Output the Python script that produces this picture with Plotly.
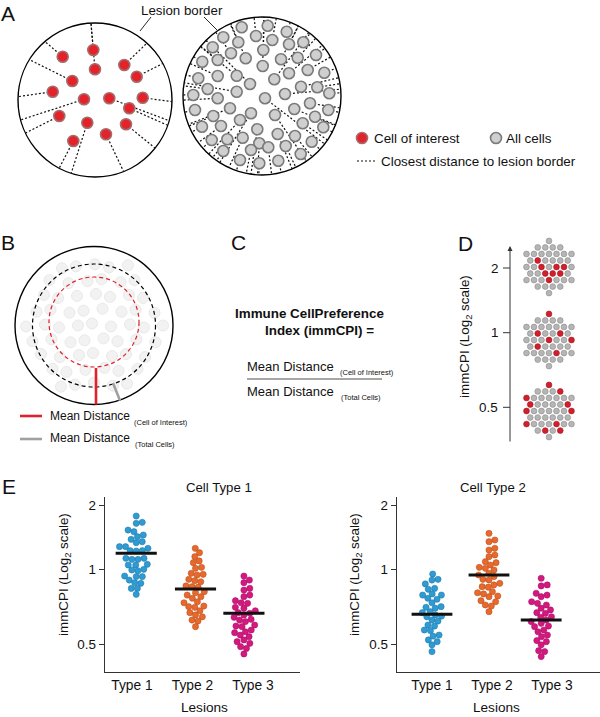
import numpy as np
import plotly.graph_objects as go

W, H = 600, 717
FONT = "Liberation Sans, Arial, sans-serif"

# ---------------- Panel A data ----------------
A_left = dict(cx=95, cy=100, r=77)
A_right = dict(cx=262, cy=96, r=79)

interest_x = [62.7, 93.3, 95.0, 124.3, 136.7, 72.3, 52.7, 84.0, 109.3, 142.7, 129.3, 59.3, 87.3, 126.0, 106.0, 73.3]
interest_y = [56.7, 50.0, 69.3, 65.0, 76.7, 81.0, 91.7, 99.3, 98.3, 97.7, 108.3, 116.0, 122.7, 124.3, 134.3, 141.0]
interest_border_deg = [-130.6, -93, -93, -47.6, -28.3, -148.4, -177.5, 165, 15.6, 1.2, 19.2, 154.6, 108, 38.7, 68.2, 117.7]

allcells_x = [241.7, 267.7, 286.7, 256, 223.3, 303.3, 272.3, 289, 238.3, 212.7, 231, 263.3, 316, 297.7, 281,
              217.7, 202.3, 245.7, 262.7, 307.7, 324.3, 289, 198.3, 217.7, 236.7, 274.3, 317.3, 301, 207.7,
              250, 236.7, 193.3, 329.3, 285, 217.7, 265, 310, 195, 230, 294.3, 328.3, 251, 213.3, 275, 315,
              240, 221, 302.7, 202, 257.3, 323.3, 277.7, 242.7, 295, 211.7, 227.3, 311.7, 259.3, 285.7,
              223.3, 251, 268.3, 300.7, 240, 259.3, 278.3]
allcells_y = [27.3, 25.7, 31.7, 36, 37.3, 42.3, 40, 44.3, 42.3, 47.3, 53.3, 50, 55, 57.7, 59.3,
              60, 61.7, 58.3, 66, 70, 72.7, 73.3, 78.3, 76, 75.7, 79.3, 87.3, 86.7, 89,
              84, 91.7, 95, 93.3, 94, 98.3, 98.3, 103.3, 110, 108.3, 109, 110, 113.3, 116, 115, 116.7,
              120, 126, 123.3, 126.7, 129.3, 127.3, 134, 137.7, 136, 140, 139.3, 141.7, 143.3, 146,
              151, 150, 147.3, 154, 160, 163.3, 160.7]

# ---------------- Panel B data ----------------
B_circle = dict(cx=94, cy=325.5, r=79)
B_total_ring_r = 61.5
B_interest_ring = dict(cx=94, cy=322, r=45)

# ---------------- Panel D data ----------------
D_levels = [2, 1, 0.5]
D_tick_y = {2: 268, 1: 332.7, 0.5: 407.3}
D_cluster_cy = [267, 340, 411]
# approximate positions of the red cells inside each cluster (relative to cluster centre)
D_red_top = [(-6, 8), (1, 7), (9, 7), (-1, 14), (-4, 0), (5, 0), (-8, -6), (12, -2)]
D_red_mid = [(-3, -24), (-13, -7), (9, -7), (2, 3), (23, 3), (-11, 10), (8, 13)]
D_red_bot = [(-2, -25), (14, -22), (-19, -17), (-22, -8), (20, -10), (-25, 4), (24, 3), (-21, 15),
             (9, 13), (-5, 24), (14, 20)]

# ---------------- Panel E data ----------------
lesion_types = ["Type 1", "Type 2", "Type 3"]
ct1_type1 = [1.775, 1.658, 1.640, 1.525, 1.498, 1.445, 1.419, 1.379, 1.344, 1.330, 1.274, 1.274, 1.251, 1.219,
             1.215, 1.219, 1.123, 1.123, 1.110, 1.110, 1.052, 1.044, 1.044, 0.997, 0.991, 0.984, 0.937, 0.932,
             0.932, 0.903, 0.881, 0.876, 0.836, 0.836, 0.791]
ct1_type2 = [1.251, 1.193, 1.143, 1.091, 1.071, 1.018, 1.007, 0.961, 0.952, 0.946, 0.909, 0.898, 0.889, 0.855,
             0.849, 0.845, 0.811, 0.803, 0.786, 0.774, 0.763, 0.739, 0.732, 0.710, 0.706, 0.702, 0.680, 0.668,
             0.654, 0.643, 0.624, 0.618, 0.587]
ct1_type3 = [0.937, 0.903, 0.881, 0.836, 0.823, 0.786, 0.774, 0.746, 0.732, 0.728, 0.702, 0.696, 0.680, 0.668,
             0.664, 0.654, 0.640, 0.628, 0.624, 0.615, 0.596, 0.590, 0.587, 0.569, 0.560, 0.555, 0.543, 0.535,
             0.519, 0.511, 0.503, 0.488, 0.480, 0.456]
ct2_type1 = [0.955, 0.909, 0.903, 0.871, 0.836, 0.829, 0.794, 0.786, 0.786, 0.763, 0.756, 0.732, 0.706, 0.702,
             0.696, 0.674, 0.668, 0.654, 0.647, 0.643, 0.624, 0.618, 0.596, 0.590, 0.569, 0.566, 0.543, 0.538,
             0.519, 0.511, 0.496, 0.466]
ct2_type2 = [1.471, 1.369, 1.344, 1.251, 1.228, 1.164, 1.143, 1.082, 1.071, 1.044, 1.018, 1.007, 0.991, 0.961,
             0.946, 0.932, 0.909, 0.903, 0.876, 0.863, 0.849, 0.845, 0.811, 0.803, 0.794, 0.779, 0.774, 0.746,
             0.739, 0.717, 0.710, 0.674]
ct2_type3 = [0.918, 0.863, 0.855, 0.799, 0.786, 0.774, 0.739, 0.728, 0.717, 0.696, 0.685, 0.668, 0.664, 0.643,
             0.640, 0.624, 0.615, 0.605, 0.590, 0.587, 0.569, 0.560, 0.543, 0.535, 0.516, 0.511, 0.496, 0.470,
             0.466, 0.445]
ct1_center = [1.185, 0.831, 0.664]
ct2_center = [0.658, 0.946, 0.624]
ytick_vals = [2, 1, 0.5]
type_colors = ["#2e9bd3", "#e8692c", "#d5187f"]
type_edges = ["#1f74a3", "#b04d1c", "#9c0f5c"]

# ---------------- helpers ----------------
def circle_shape(cx, cy, r, color="black", width=1.3, dash="solid", layer="below"):
    return dict(type="circle", xref="x", yref="y", x0=cx - r, x1=cx + r, y0=cy - r, y1=cy + r,
                line=dict(color=color, width=width, dash=dash), layer=layer)

def cpi_scale(v):
    # the reference axis: 64 px per doubling above 1, 75 px per halving below 1
    t = np.log2(np.asarray(v, dtype=float))
    return np.where(t >= 0, t * 64.0, t * 75.0)

def swarm(ypx, d):
    ypx = np.asarray(ypx, dtype=float)
    xs = np.zeros(len(ypx))
    placed = []
    for i in np.argsort(ypx):
        y = ypx[i]
        cands = [0.0]
        for (px, py) in placed:
            dy = y - py
            if abs(dy) < d:
                dx = np.sqrt(d * d - dy * dy)
                cands += [px + dx, px - dx]
        cands.sort(key=abs)
        for c in cands:
            if all((c - px) ** 2 + (y - py) ** 2 >= d * d - 1e-6 for px, py in placed):
                xs[i] = c
                placed.append((c, y))
                break
    return xs

fig = go.Figure()
shapes = []
ann = []

def text(x, y, s, size=12, xanchor="center", yanchor="middle", bold=False, color="#111", angle=0):
    ann.append(dict(x=x, y=y, xref="x", yref="y", text=("<b>%s</b>" % s) if bold else s, showarrow=False,
                    xanchor=xanchor, yanchor=yanchor, textangle=angle,
                    font=dict(family=FONT, size=size, color=color)))

# ---------------- Panel A ----------------
shapes.append(circle_shape(A_left["cx"], A_left["cy"], A_left["r"], width=1.4))
shapes.append(circle_shape(A_right["cx"], A_right["cy"], A_right["r"], width=1.4))

lx, ly = [], []
for x, y, a in zip(interest_x, interest_y, interest_border_deg):
    ex = A_left["cx"] + A_left["r"] * np.cos(np.radians(a))
    ey = A_left["cy"] + A_left["r"] * np.sin(np.radians(a))
    lx += [x, ex, None]; ly += [y, ey, None]
gx, gy = [], []
for x, y in zip(allcells_x, allcells_y):
    dx, dy = x - A_right["cx"], y - A_right["cy"]
    n = np.hypot(dx, dy)
    if n < 1e-6:
        dx, dy, n = 0, 1, 1
    ex = A_right["cx"] + A_right["r"] * dx / n
    ey = A_right["cy"] + A_right["r"] * dy / n
    gx += [x, ex, None]; gy += [y, ey, None]

fig.add_trace(go.Scatter(x=lx + gx, y=ly + gy, mode="lines", line=dict(color="#111", width=1.2, dash="2px,2px"),
                         hoverinfo="skip", showlegend=False))
fig.add_trace(go.Scatter(x=interest_x, y=interest_y, mode="markers",
                         marker=dict(size=11, color="#e4222a", line=dict(color="#a36d6d", width=1.6)),
                         hoverinfo="skip", showlegend=False))
fig.add_trace(go.Scatter(x=allcells_x, y=allcells_y, mode="markers",
                         marker=dict(size=11, color="#cfcfcf", line=dict(color="#7a7a7a", width=1.6)),
                         hoverinfo="skip", showlegend=False))

# lesion border label + leaders
text(182, 10, "Lesion border", size=13.3)
shapes.append(dict(type="line", xref="x", yref="y", x0=151, y0=17, x1=140, y1=31, line=dict(color="#111", width=0.9)))
shapes.append(dict(type="line", xref="x", yref="y", x0=204, y0=17, x1=217, y1=30, line=dict(color="#111", width=0.9)))

# legend of A
fig.add_trace(go.Scatter(x=[362], y=[138], mode="markers",
                         marker=dict(size=11, color="#e4222a", line=dict(color="#a36d6d", width=1.6)),
                         hoverinfo="skip", showlegend=False))
fig.add_trace(go.Scatter(x=[496], y=[138], mode="markers",
                         marker=dict(size=11, color="#cfcfcf", line=dict(color="#7a7a7a", width=1.6)),
                         hoverinfo="skip", showlegend=False))
text(372, 138, "Cell of interest", size=13.4, xanchor="left")
text(504, 138, "All cells", size=13.4, xanchor="left")
shapes.append(dict(type="line", xref="x", yref="y", x0=357, y0=161, x1=377, y1=161,
                   line=dict(color="#111", width=1.2, dash="2px,2px")))
text(379, 161, "Closest distance to lesion border", size=13.4, xanchor="left")

# ---------------- Panel B ----------------
bx, by = [], []
sp = 17
for k in range(-5, 6):
    for i in range(-6, 7):
        px = B_circle["cx"] + i * sp + (k % 2) * sp / 2 + ((i * 7 + k * 3) % 5 - 2)
        py = B_circle["cy"] + k * sp * 0.87 + ((i * 3 + k * 5) % 5 - 2)
        if np.hypot(px - B_circle["cx"], py - B_circle["cy"]) < 70:
            bx.append(px); by.append(py)
fig.add_trace(go.Scatter(x=bx, y=by, mode="markers",
                         marker=dict(size=11, color="#f2f2f2", line=dict(color="#e9e9e9", width=1)),
                         hoverinfo="skip", showlegend=False))
shapes.append(circle_shape(B_circle["cx"], B_circle["cy"], B_circle["r"], width=1.4))
shapes.append(circle_shape(B_circle["cx"], B_circle["cy"], B_total_ring_r, width=1.2, dash="4px,3px", layer="above"))
shapes.append(circle_shape(B_interest_ring["cx"], B_interest_ring["cy"], B_interest_ring["r"], color="#e0202a",
                           width=1.2, dash="4px,3px", layer="above"))
shapes.append(dict(type="line", xref="x", yref="y", x0=96, y0=368, x1=96, y1=404.5, line=dict(color="#e0202a", width=2.6)))
shapes.append(dict(type="line", xref="x", yref="y", x0=113, y0=383, x1=120, y1=400.5, line=dict(color="#a0a0a0", width=2.6)))

shapes.append(dict(type="line", xref="x", yref="y", x0=20, y0=416, x1=42, y1=416, line=dict(color="#e0202a", width=2.6)))
shapes.append(dict(type="line", xref="x", yref="y", x0=20, y0=439, x1=42, y1=439, line=dict(color="#a0a0a0", width=2.6)))
text(48, 416, "Mean Distance", size=12, xanchor="left")
text(132, 422, "(Cell of Interest)", size=7.5, xanchor="left")
text(48, 438, "Mean Distance", size=12, xanchor="left")
text(133, 444, "(Total Cells)", size=7.5, xanchor="left")

# ---------------- Panel C ----------------
text(309, 313, "Immune CellPreference", size=13.4, bold=True)
text(319, 330, "Index (immCPI) =", size=13.4, bold=True)
text(245, 366, "Mean Distance", size=13, xanchor="left")
text(338, 372, "(Cell of Interest)", size=7.5, xanchor="left")
shapes.append(dict(type="line", xref="x", yref="y", x0=247, y0=379, x1=382, y1=379, line=dict(color="#888", width=1.6)))
text(245, 391, "Mean Distance", size=13, xanchor="left")
text(339, 397, "(Total Cells)", size=7.5, xanchor="left")

# ---------------- Panel D ----------------
ann.append(dict(x=510, y=246, ax=510, ay=443, xref="x", yref="y", axref="x", ayref="y", text="", showarrow=True,
                arrowhead=2, arrowsize=1, arrowwidth=1, arrowcolor="#333"))
for lv in D_levels:
    yy = D_tick_y[lv]
    shapes.append(dict(type="line", xref="x", yref="y", x0=503, y0=yy, x1=510, y1=yy, line=dict(color="#333", width=1)))
    text(500, yy, "%g" % lv, size=13.4, xanchor="right")
text(465, 337, "immCPI (Log<sub>2</sub> scale)", size=13.4, angle=-90)

# cluster layouts
hex_dx, hex_dy = [], []
s = 7.5
for k in range(-4, 5):
    for i in range(-5, 6):
        px = i * s + (k % 2) * s / 2
        py = k * s * 0.87
        if np.hypot(px, py) < 26.5:
            hex_dx.append(px); hex_dy.append(py)
hex_dx = np.array(hex_dx); hex_dy = np.array(hex_dy)
for cy, targets in zip(D_cluster_cy, [D_red_top, D_red_mid, D_red_bot]):
    red = np.zeros(len(hex_dx), bool)
    for tx, ty in targets:
        red[int(np.argmin(np.hypot(hex_dx - tx, hex_dy - ty)))] = True
    cols = np.where(red, "#d21f2c", "#b5b5b5")
    edges = np.where(red, "#a01822", "#8a8a8a")
    fig.add_trace(go.Scatter(x=549 + hex_dx, y=cy + hex_dy, mode="markers",
                             marker=dict(size=5.8, color=list(cols), line=dict(color=list(edges), width=0.6)),
                             hoverinfo="skip", showlegend=False))

# panel letters
for L, x, y in [("A", 8, 13), ("B", 8, 242), ("C", 238, 242), ("D", 465, 243), ("E", 9, 486)]:
    text(x, y, L, size=21)

# ---------------- Panel E ----------------
def dom_x(a, b):
    return [a / W, b / W]
ydom = [(H - 672) / H, (H - 497) / H]
yrange = [-103, 72]

panels = [
    dict(xa="x2", ya="y2", data=[ct1_type1, ct1_type2, ct1_type3], centers=ct1_center, xpx=(105, 300),
         xrange=[0.554, 3.777], shift=[0.07, 0.05, -0.15], title="Cell Type 1", tx=219, ytx=64),
    dict(xa="x3", ya="y3", data=[ct2_type1, ct2_type2, ct2_type3], centers=ct2_center, xpx=(397, 600),
         xrange=[0.417, 3.8], shift=[0.0, -0.05, -0.18], title="Cell Type 2", tx=493, ytx=355),
]
for pi, p in enumerate(panels):
    upp = (p["xpx"][1] - p["xpx"][0]) / (p["xrange"][1] - p["xrange"][0])  # px per x-unit
    for gi, vals in enumerate(p["data"]):
        ys = cpi_scale(vals)
        offs = swarm(ys, 6.1) / upp
        xc = gi + 1 + p["shift"][gi]
        fig.add_trace(go.Scatter(x=xc + offs, y=ys, mode="markers", xaxis=p["xa"], yaxis=p["ya"],
                                 marker=dict(size=6.2, color=type_colors[gi], line=dict(color=type_edges[gi], width=0.5)),
                                 hoverinfo="skip", showlegend=False))
        cy = float(cpi_scale([p["centers"][gi]])[0])
        fig.add_trace(go.Scatter(x=[xc - 0.34, xc + 0.34], y=[cy, cy], mode="lines", xaxis=p["xa"], yaxis=p["ya"],
                                 line=dict(color="#111", width=3), hoverinfo="skip", showlegend=False))
    text(p["tx"], 487, p["title"], size=13.2)
    text(p["ytx"], 575, "immCPI (Log<sub>2</sub> scale)", size=13.4, angle=-90)
    text((p["xpx"][0] + p["xpx"][1]) / 2 + (2 if pi == 0 else -2), 707, "Lesions", size=13.6)

layout_axes = dict(
    xaxis=dict(domain=[0, 1], range=[0, W], visible=False, fixedrange=True),
    yaxis=dict(domain=[0, 1], range=[H, 0], visible=False, fixedrange=True),
)
for i, p in enumerate(panels):
    xk = "xaxis%d" % (i + 2)
    yk = "yaxis%d" % (i + 2)
    layout_axes[xk] = dict(domain=dom_x(*p["xpx"]), range=p["xrange"], anchor=p["ya"], showline=True,
                           linecolor="#333", linewidth=1.4, showgrid=False, zeroline=False, ticks="",
                           tickvals=[1, 2, 3], ticktext=lesion_types, fixedrange=True,
                           tickfont=dict(family=FONT, size=13.8, color="#111"))
    layout_axes[yk] = dict(domain=ydom, range=yrange, anchor=p["xa"], showline=True, linecolor="#333",
                           linewidth=1.4, showgrid=False, zeroline=False, ticks="outside", ticklen=5,
                           tickwidth=1, tickcolor="#333", tickvals=list(cpi_scale(ytick_vals)),
                           ticktext=["%g" % v for v in ytick_vals], fixedrange=True,
                           tickfont=dict(family=FONT, size=13.4, color="#111"))

fig.update_layout(width=W, height=H, margin=dict(l=0, r=0, t=0, b=0), paper_bgcolor="white",
                  plot_bgcolor="rgba(0,0,0,0)", shapes=shapes, annotations=ann, showlegend=False,
                  hovermode=False, **layout_axes)
fig.write_html("out.html", config={"displayModeBar": False, "staticPlot": True},
               post_script="document.body.style.margin='0';document.body.style.padding='0';")
